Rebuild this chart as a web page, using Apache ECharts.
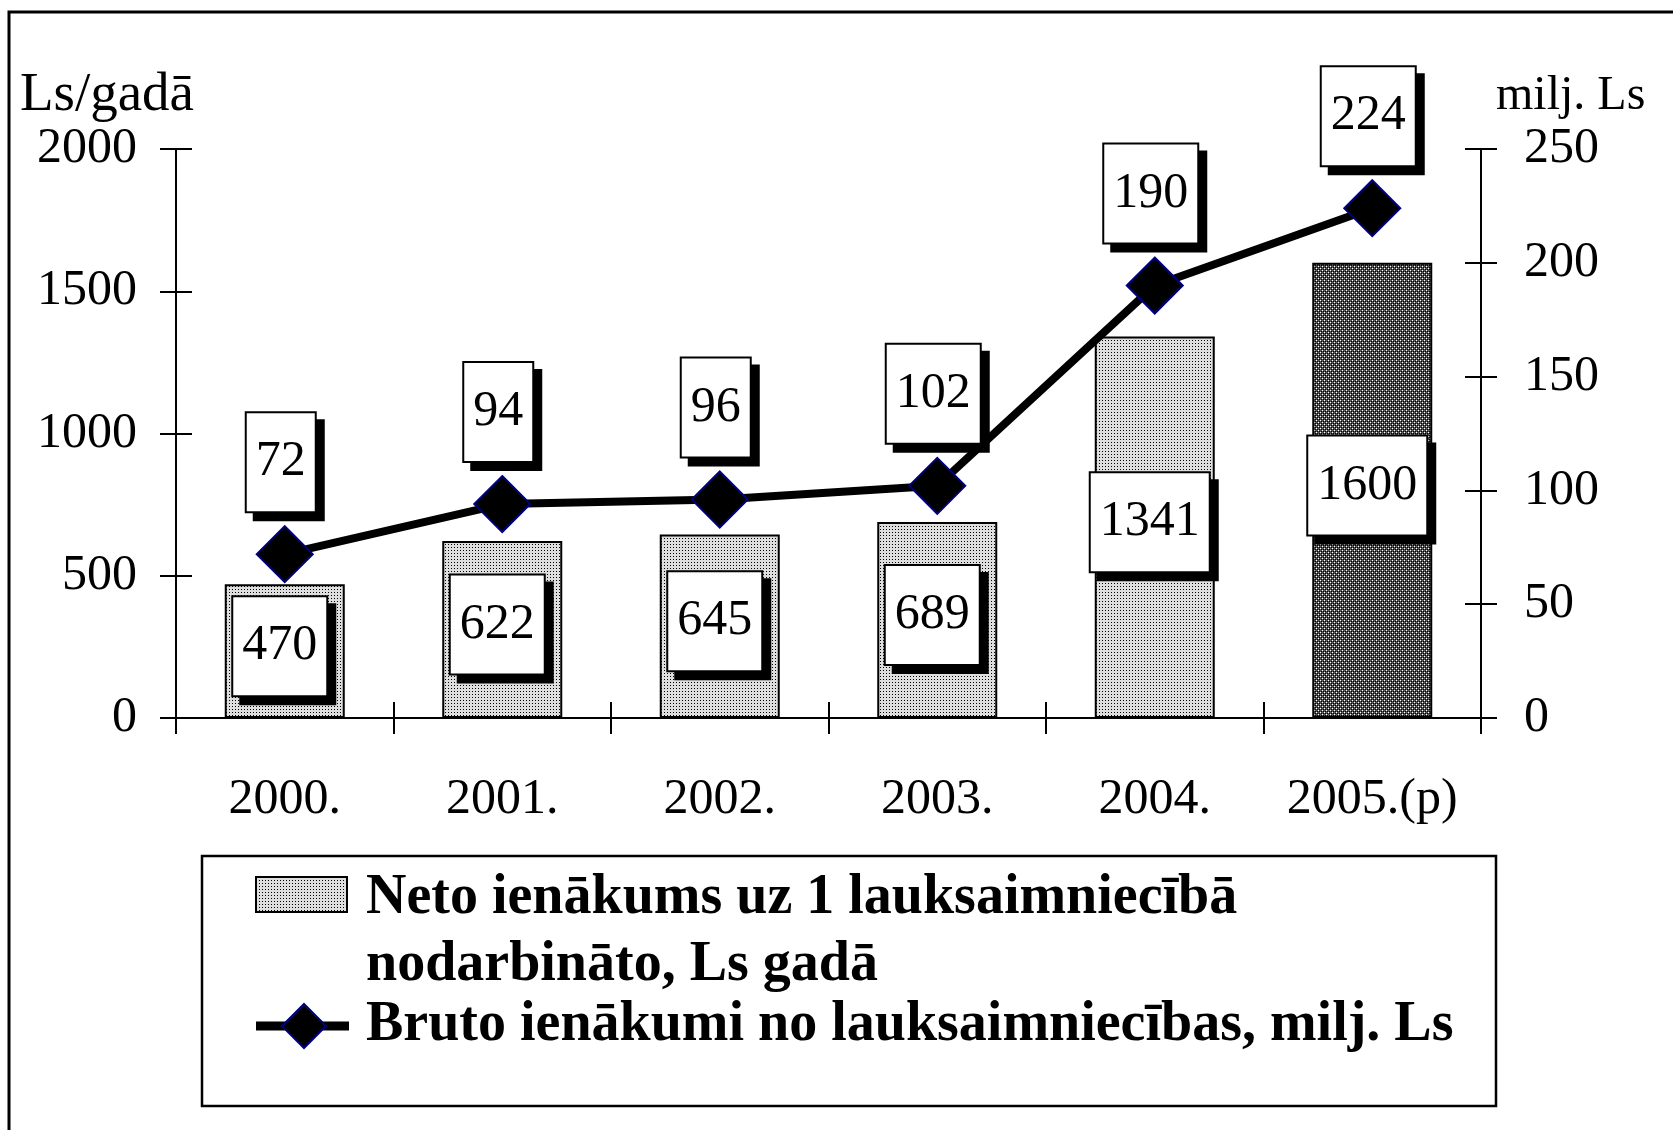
<!DOCTYPE html>
<html>
<head>
<meta charset="utf-8">
<script src="https://cdn.jsdelivr.net/npm/echarts@6/dist/echarts.min.js"></script>
<style>
html, body { margin: 0; padding: 0; background: #fff; }
#main { width: 1673px; height: 1130px; }
</style>
</head>
<body>
<div id="main"></div>
<script>
// values
let years = ['2000.', '2001.', '2002.', '2003.', '2004.', '2005.(p)'];
let neto_values = [470, 622, 645, 689, 1341, 1600];   // Ls gadā, left axis
let bruto_values = [72, 94, 96, 102, 190, 224];        // milj. Ls, right axis
let left_axis = { min: 0, max: 2000, interval: 500 };
let right_axis = { min: 0, max: 250, interval: 50 };
let neto_name = 'Neto ienākums uz 1 lauksaimniecībā';
let neto_name2 = 'nodarbināto, Ls gadā';
let bruto_name = 'Bruto ienākumi no lauksaimniecības, milj. Ls';

let font = "'Liberation Serif', 'Times New Roman', serif";

// small tiles for the bar fills
function make_pattern(dark) {
    let c = document.createElement('canvas');
    let ctx = c.getContext('2d');
    if (!dark) {
        c.width = 3; c.height = 3;
        ctx.fillStyle = '#dedede';
        ctx.fillRect(0, 0, 3, 3);
        ctx.fillStyle = '#000';
        ctx.fillRect(1, 1, 1, 1);
    } else {
        c.width = 4; c.height = 4;
        ctx.fillStyle = '#555';
        ctx.fillRect(0, 0, 4, 4);
        ctx.fillStyle = '#fff';
        ctx.fillRect(0, 0, 1, 1);
        ctx.fillRect(2, 2, 1, 1);
        ctx.fillStyle = '#000';
        ctx.fillRect(1, 1, 1, 1);
        ctx.fillRect(3, 3, 1, 1);
        ctx.fillRect(3, 1, 1, 1);
        ctx.fillRect(1, 3, 1, 1);
    }
    return { image: c, repeat: 'repeat' };
}
let light_fill = make_pattern(false);
let dark_fill = make_pattern(true);

let box_label = {
    show: true,
    color: '#000',
    fontSize: 50,
    fontFamily: font,
    lineHeight: 50,
    backgroundColor: '#fff',
    borderColor: '#000',
    borderWidth: 2,
    padding: [24, 9],
    shadowColor: '#000',
    shadowOffsetX: 8,
    shadowOffsetY: 8,
    shadowBlur: 0,
    textBorderWidth: 0
};

let axis_line = { show: true, lineStyle: { color: '#000', width: 2 } };
let tick_style = { color: '#000', width: 2 };
let plain = function (v) { return String(v); };

var chartDom = document.getElementById('main');
var myChart = echarts.init(chartDom);
var option = {
    animation: false,
    backgroundColor: '#fff',
    grid: { left: 176, right: 192, top: 149, bottom: 412, containLabel: false, outerBoundsMode: 'none' },
    xAxis: [
        {
            type: 'category',
            data: years,
            axisLine: axis_line,
            axisTick: { show: true, interval: 0, length: 16, lineStyle: tick_style },
            axisLabel: { interval: 0, margin: 57, color: '#000', fontSize: 50, fontFamily: font },
            splitLine: { show: false }
        },
        {
            // inner half of the ticks, so they cross the axis line
            type: 'category',
            data: years,
            position: 'bottom',
            axisLine: { show: false },
            axisTick: { show: true, inside: true, interval: 0, length: 16, lineStyle: tick_style },
            axisLabel: { show: false },
            splitLine: { show: false }
        }
    ],
    yAxis: [
        {
            type: 'value',
            position: 'left',
            min: left_axis.min, max: left_axis.max, interval: left_axis.interval,
            name: 'Ls/gadā',
            nameLocation: 'end',
            nameGap: 53,
            nameTextStyle: { color: '#000', fontSize: 55, fontFamily: font, align: 'right', verticalAlign: 'middle', padding: [0, -18, 0, 0] },
            axisLine: axis_line,
            axisTick: { show: true, length: 16, lineStyle: tick_style },
            axisLabel: { margin: 39, color: '#000', fontSize: 50, fontFamily: font, formatter: plain },
            splitLine: { show: false }
        },
        {
            type: 'value',
            position: 'right',
            min: right_axis.min, max: right_axis.max, interval: right_axis.interval,
            name: 'milj. Ls',
            nameLocation: 'end',
            nameGap: 53,
            nameTextStyle: { color: '#000', fontSize: 48, fontFamily: font, align: 'left', verticalAlign: 'middle', padding: [0, 0, 0, 15] },
            axisLine: axis_line,
            axisTick: { show: true, length: 16, lineStyle: tick_style },
            axisLabel: { margin: 43, color: '#000', fontSize: 50, fontFamily: font, formatter: plain },
            splitLine: { show: false }
        },
        {
            type: 'value',
            position: 'left',
            min: left_axis.min, max: left_axis.max, interval: left_axis.interval,
            axisLine: { show: false },
            axisTick: { show: true, inside: true, length: 16, lineStyle: tick_style },
            axisLabel: { show: false },
            splitLine: { show: false }
        },
        {
            type: 'value',
            position: 'right',
            min: right_axis.min, max: right_axis.max, interval: right_axis.interval,
            axisLine: { show: false },
            axisTick: { show: true, inside: true, length: 16, lineStyle: tick_style },
            axisLabel: { show: false },
            splitLine: { show: false }
        }
    ],
    series: [
        {
            name: neto_name,
            type: 'bar',
            xAxisIndex: 0,
            yAxisIndex: 0,
            barWidth: 120,
            data: neto_values.map(function (v, i) {
                return { value: v, itemStyle: { color: i === neto_values.length - 1 ? dark_fill : light_fill } };
            }),
            itemStyle: { borderColor: '#000', borderWidth: 2 },
            label: Object.assign({}, box_label, { position: 'inside', offset: [-5, -5] }),
            z: 2
        },
        {
            name: bruto_name,
            type: 'line',
            xAxisIndex: 0,
            yAxisIndex: 1,
            data: bruto_values,
            symbol: 'diamond',
            symbolSize: 56,
            lineStyle: { color: '#000', width: 8 },
            itemStyle: { color: '#000', borderColor: '#000080', borderWidth: 2 },
            label: Object.assign({}, box_label, { position: 'top', distance: 14, offset: [-4, 0] }),
            z: 3
        }
    ],
    graphic: [
        {
            type: 'rect', z: -10, silent: true,
            shape: { x: 9, y: 12, width: 1700, height: 1200 },
            style: { fill: 'none', stroke: '#000', lineWidth: 3 }
        },
        {
            type: 'rect', silent: true,
            shape: { x: 202, y: 856, width: 1294, height: 250 },
            style: { fill: '#fff', stroke: '#000', lineWidth: 2.5 }
        },
        {
            type: 'rect', silent: true,
            shape: { x: 256, y: 877, width: 91, height: 35 },
            style: { fill: light_fill, stroke: '#000', lineWidth: 2 }
        },
        {
            type: 'line', silent: true,
            shape: { x1: 256, y1: 1026, x2: 349, y2: 1026 },
            style: { stroke: '#000', lineWidth: 9 }
        },
        {
            type: 'polygon', silent: true,
            shape: { points: [[304, 1004], [326, 1026], [304, 1048], [282, 1026]] },
            style: { fill: '#000', stroke: '#000080', lineWidth: 2 }
        },
        {
            type: 'text', x: 366, y: 899,
            style: { text: neto_name, fill: '#000', font: 'bold 56px ' + font, verticalAlign: 'middle' }
        },
        {
            type: 'text', x: 366, y: 966,
            style: { text: neto_name2, fill: '#000', font: 'bold 56px ' + font, verticalAlign: 'middle' }
        },
        {
            type: 'text', x: 366, y: 1026,
            style: { text: bruto_name, fill: '#000', font: 'bold 56px ' + font, verticalAlign: 'middle' }
        }
    ]
};
myChart.setOption(option);
</script>
</body>
</html>
